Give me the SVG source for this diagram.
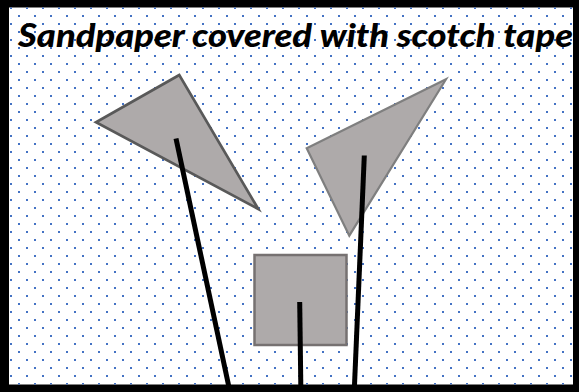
<svg xmlns="http://www.w3.org/2000/svg" width="579" height="392" viewBox="0 0 579 392">
  <defs>
    <pattern id="dots" x="0" y="0" width="16" height="16" patternUnits="userSpaceOnUse">
      <rect x="2" y="15" width="2" height="2" fill="#4472C4"/>
      <rect x="2" y="-1" width="2" height="2" fill="#4472C4"/>
      <rect x="10" y="7" width="2" height="2" fill="#4472C4"/>
    </pattern>
  </defs>
  <style>
    .shape { fill: #AEAAAA; }
    .stick { stroke: #000000; stroke-width: 5; fill: none; }
    .title { font-family: Lato, "Open Sans", "Liberation Sans", sans-serif; font-weight: 900; font-style: italic; font-size: 33px; fill: #000000; }
  </style>
  <rect id="frame" x="0" y="0" width="579" height="392" fill="#000000"/>
  <rect id="paper" x="9" y="7.5" width="564" height="377" fill="#FFFFFF"/>
  <rect id="paper-dots" x="9" y="7.5" width="564" height="377" fill="url(#dots)"/>
  <g id="title">
    <text class="title" x="18" y="46.5" textLength="555" lengthAdjust="spacingAndGlyphs">Sandpaper covered with scotch tape</text>
  </g>
  <g id="triangle-left">
    <polygon class="shape" points="179.3,75 96,122.3 258.3,209" stroke="#595959" stroke-width="2.7" stroke-linejoin="miter"/>
  </g>
  <g id="triangle-right">
    <polygon class="shape" points="446,79.3 306.7,148.3 349.3,235.7" stroke="#7F7F7F" stroke-width="2.2"/>
  </g>
  <g id="square">
    <rect class="shape" x="254.5" y="255" width="92" height="90" stroke="#767171" stroke-width="2.5"/>
  </g>
  <g id="connectors">
    <line class="stick" x1="176" y1="138.5" x2="230" y2="392"/>
    <line class="stick" x1="364.3" y1="155.5" x2="354.2" y2="392"/>
    <line class="stick" x1="299.7" y1="302" x2="300.9" y2="392"/>
  </g>
</svg>
